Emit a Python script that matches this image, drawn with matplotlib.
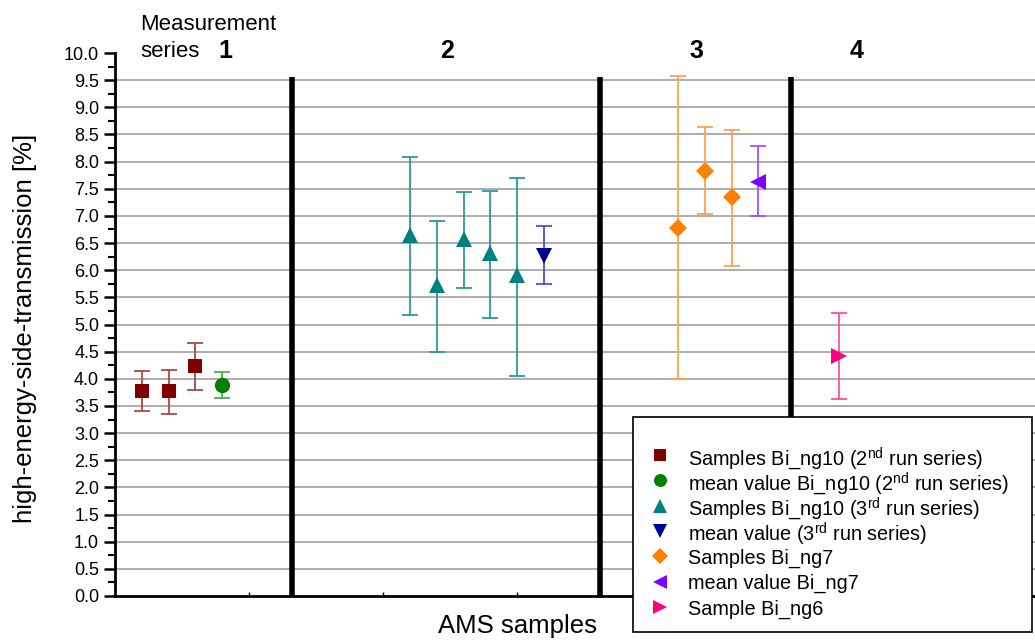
import matplotlib
matplotlib.use("Agg")
import matplotlib.pyplot as plt
from matplotlib.lines import Line2D
from matplotlib.patches import Rectangle
import numpy as np

plt.rcParams['font.family'] = ['Liberation Sans', 'DejaVu Sans']
plt.rcParams['mathtext.fontset'] = 'custom'
plt.rcParams['mathtext.rm'] = 'Liberation Sans'
plt.rcParams['mathtext.it'] = 'Liberation Sans:italic'
plt.rcParams['mathtext.bf'] = 'Liberation Sans:bold'

# ---- data ----
ng10_2_x = [1, 2, 3]
ng10_2_y = [3.77, 3.77, 4.23]
ng10_2_lo = [3.40, 3.35, 3.79]
ng10_2_hi = [4.15, 4.17, 4.66]

mean_ng10_2_x = [4]
mean_ng10_2_y = [3.88]
mean_ng10_2_lo = [3.65]
mean_ng10_2_hi = [4.12]

ng10_3_x = [11, 12, 13, 14, 15]
ng10_3_y = [6.64, 5.73, 6.57, 6.31, 5.91]
ng10_3_lo = [5.17, 4.50, 5.67, 5.12, 4.06]
ng10_3_hi = [8.09, 6.91, 7.44, 7.45, 7.70]

mean_3_x = [16]
mean_3_y = [6.26]
mean_3_lo = [5.75]
mean_3_hi = [6.82]

ng7_x = [21, 22, 23]
ng7_y = [6.77, 7.83, 7.34]
ng7_lo = [3.99, 7.03, 6.08]
ng7_hi = [9.57, 8.63, 8.59]

mean_ng7_x = [24]
mean_ng7_y = [7.63]
mean_ng7_lo = [6.99]
mean_ng7_hi = [8.29]

ng6_x = [27]
ng6_y = [4.42]
ng6_lo = [3.63]
ng6_hi = [5.22]

separators = [6.6, 18.1, 25.2]
series_labels = ['1', '2', '3', '4']
series_label_x = [4.1, 12.4, 21.7, 27.65]

labels = [
    r'Samples Bi_ng10 (2$^{\mathrm{nd}}$ run series)',
    r'mean value Bi_ng10 (2$^{\mathrm{nd}}$ run series)',
    r'Samples Bi_ng10 (3$^{\mathrm{rd}}$ run series)',
    r'mean value (3$^{\mathrm{rd}}$ run series)',
    'Samples Bi_ng7',
    'mean value Bi_ng7',
    'Sample Bi_ng6',
]

series = [
    (ng10_2_x, ng10_2_y, ng10_2_lo, ng10_2_hi, 's', '#800000', '#a84848', 10),
    (mean_ng10_2_x, mean_ng10_2_y, mean_ng10_2_lo, mean_ng10_2_hi, 'o', '#008000', '#50b050', 11),
    (ng10_3_x, ng10_3_y, ng10_3_lo, ng10_3_hi, '^', '#008080', '#2a9a9a', 12),
    (mean_3_x, mean_3_y, mean_3_lo, mean_3_hi, 'v', '#000099', '#5050c8', 12),
    (ng7_x, ng7_y, ng7_lo, ng7_hi, 'D', '#ff8000', '#ffa050', 9),
    (mean_ng7_x, mean_ng7_y, mean_ng7_lo, mean_ng7_hi, '<', '#8000ff', '#a050ff', 12),
    (ng6_x, ng6_y, ng6_lo, ng6_hi, '>', '#ff0080', '#ff50a0', 12),
]

W, H = 1035, 642
fig = plt.figure(figsize=(W / 100, H / 100), dpi=100)
ax = fig.add_axes([115 / W, 1 - 596 / H, (W - 115) / W + 0.01, (596 - 53) / H])

ax.set_xlim(0, 34.7)
ax.set_ylim(0, 10)

ax.set_yticks(np.arange(0, 10.01, 0.5))
ax.set_yticks(np.arange(0.25, 10, 0.5), minor=True)
ax.set_yticklabels([f'{v:.1f}' for v in np.arange(0, 10.01, 0.5)], fontsize=13)
ax.set_xticks(np.arange(5, 35, 5))
ax.set_xticklabels([])

for v in np.arange(0.5, 9.99, 0.5):
    ax.axhline(v, color='#a0a0a0', lw=1.2, zorder=0)

ax.tick_params(axis='y', which='major', direction='out', length=8, width=1.8)
ax.tick_params(axis='y', which='minor', direction='out', length=5, width=1.5)
ax.tick_params(axis='x', which='major', direction='in', length=3, width=1)

for s in ['top', 'right']:
    ax.spines[s].set_visible(False)
for s in ['left', 'bottom']:
    ax.spines[s].set_linewidth(2)

for sx in separators:
    ax.plot([sx, sx], [0, 9.55], color='black', lw=4, solid_capstyle='butt', zorder=3)

for x, y, lo, hi, m, c, ec, ms in series:
    x = np.array(x); y = np.array(y)
    yerr = np.vstack([y - np.array(lo), np.array(hi) - y])
    ax.errorbar(x, y, yerr=yerr, fmt='none', ecolor=ec, elinewidth=1.3,
                capsize=6, capthick=1.3, zorder=4)
    ax.plot(x, y, linestyle='none', marker=m, color=c, markersize=ms,
            markeredgewidth=0, zorder=5)

fig.text(25 / W, 1 - 328 / H, 'high-energy-side-transmission [%]', fontsize=18.5,
         rotation=90, ha='center', va='center')
fig.text(517 / W, 1 - 626 / H, 'AMS samples', fontsize=18.5, ha='center', va='center')

fig.text(140 / W, 1 - 30 / H, 'Measurement', fontsize=16, ha='left', va='baseline')
fig.text(140 / W, 1 - 57 / H, 'series', fontsize=16, ha='left', va='baseline')
for lx, lt in zip(series_label_x, series_labels):
    ax.text(lx, 9.91, lt, fontsize=18, fontweight='bold', ha='center', va='baseline',
            clip_on=False)

# legend box with manually placed rows
fig.patches.append(Rectangle((633 / W, 1 - 632 / H), (1032 - 633) / W, (632 - 417) / H,
                             transform=fig.transFigure, facecolor='white',
                             edgecolor='black', lw=1.2, zorder=10))
row0, drow = 455, 25.3
for i, ((_, _, _, _, m, c, _, ms), lab) in enumerate(zip(series, labels)):
    yy = 1 - (row0 + i * drow) / H
    fig.add_artist(Line2D([660 / W], [yy], transform=fig.transFigure, linestyle='none',
                          marker=m, color=c, markersize=ms * 0.85, markeredgewidth=0,
                          zorder=11))
    fig.text(688 / W, yy, lab, fontsize=14.3, ha='left', va='center_baseline', zorder=11)

fig.savefig('out.png', dpi=100)
